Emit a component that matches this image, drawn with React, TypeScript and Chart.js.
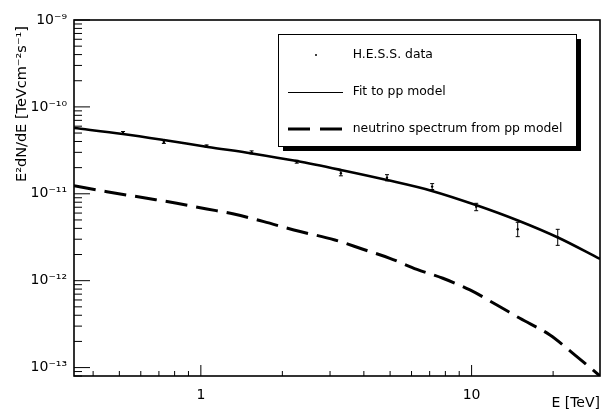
import React, { useEffect, useRef } from 'react';
import { Chart, registerables } from 'chart.js';

Chart.register(...registerables);

// ---- data ----
const hessEnergy = [0.516, 0.73, 1.05, 1.54, 2.26, 3.29, 4.87, 7.15, 10.4, 14.8, 20.8];
const hessFlux = [5.01e-11, 3.95e-11, 3.55e-11, 3.0e-11, 2.34e-11, 1.72e-11, 1.53e-11, 1.21e-11, 7.11e-12, 3.9e-12, 3.16e-12];
const hessFluxLow = [4.81e-11, 3.8e-11, 3.45e-11, 2.88e-11, 2.25e-11, 1.61e-11, 1.41e-11, 1.12e-11, 6.39e-12, 3.21e-12, 2.55e-12];
const hessFluxHigh = [5.21e-11, 4.11e-11, 3.65e-11, 3.12e-11, 2.43e-11, 1.84e-11, 1.66e-11, 1.31e-11, 7.77e-12, 4.7e-12, 3.9e-12];

const fitEnergy = [0.34, 0.515, 0.73, 1.061, 1.543, 2.263, 3.29, 4.87, 7.14, 10.37, 14.83, 20.84, 29.8];
const fitFlux = [5.72e-11, 4.88e-11, 4.16e-11, 3.46e-11, 2.91e-11, 2.38e-11, 1.88e-11, 1.44e-11, 1.08e-11, 7.43e-12, 4.93e-12, 3.14e-12, 1.78e-12];

const nuEnergy = [0.34, 0.4496, 0.632, 0.815, 1.052, 1.324, 1.709, 2.206, 3.126, 3.968, 4.99, 6.28, 7.83, 9.86, 12.4, 15.08, 19.47, 23.67, 29.8];
const nuFlux = [1.24e-11, 1.057e-11, 8.88e-12, 7.78e-12, 6.69e-12, 5.85e-12, 4.78e-12, 3.83e-12, 2.94e-12, 2.3e-12, 1.81e-12, 1.35e-12, 1.066e-12, 7.82e-13, 5.25e-13, 3.69e-13, 2.37e-13, 1.46e-13, 8.0e-14];

const seriesLabels = ['H.E.S.S. data', 'Fit to pp model', 'neutrino spectrum from pp model'];

const xTickValues = [1, 10];
const yTickExponents = [-9, -10, -11, -12, -13];
const xTitle = 'E [TeV]';
const yTitle = 'E²dN/dE [TeVcm⁻²s⁻¹]';

const xMin = 0.34;
const xMax = 29.8;
const yMin = 8.0e-14;
const yMax = 1e-9;

const SUP: Record<string, string> = {
  '-': '⁻', '0': '⁰', '1': '¹', '2': '²', '3': '³', '4': '⁴',
  '5': '⁵', '6': '⁶', '7': '⁷', '8': '⁸', '9': '⁹',
};
const sup = (s: string) => s.split('').map((c) => SUP[c] ?? c).join('');

const FONT = 'DejaVu Sans';

const decorPlugin = {
  id: 'decor',
  afterDatasetsDraw(chart: any) {
    const ctx = chart.ctx;
    const xs = chart.scales.x;
    const ys = chart.scales.y;
    ctx.save();
    ctx.strokeStyle = '#000';
    ctx.lineWidth = 1;
    for (let i = 0; i < hessEnergy.length; i++) {
      const px = xs.getPixelForValue(hessEnergy[i]);
      const yl = ys.getPixelForValue(hessFluxLow[i]);
      const yh = ys.getPixelForValue(hessFluxHigh[i]);
      ctx.beginPath();
      ctx.moveTo(px, yl);
      ctx.lineTo(px, yh);
      ctx.moveTo(px - 2, yl);
      ctx.lineTo(px + 2, yl);
      ctx.moveTo(px - 2, yh);
      ctx.lineTo(px + 2, yh);
      ctx.stroke();
    }
    ctx.restore();
  },
  afterDraw(chart: any) {
    const ctx = chart.ctx;
    const { left, right, top, bottom } = chart.chartArea;
    const xs = chart.scales.x;
    const ys = chart.scales.y;
    ctx.save();
    // frame
    ctx.strokeStyle = '#000';
    ctx.lineWidth = 1.6;
    ctx.strokeRect(left, top, right - left, bottom - top);

    // y ticks (inside)
    ctx.lineWidth = 1;
    for (let d = -14; d <= -9; d++) {
      for (let m = 1; m <= 9; m++) {
        const v = m * Math.pow(10, d);
        if (v < yMin * 0.999 || v > yMax * 1.001) continue;
        const py = ys.getPixelForValue(v);
        const len = m === 1 ? 16 : 8;
        ctx.beginPath();
        ctx.moveTo(left, py);
        ctx.lineTo(left + len, py);
        ctx.stroke();
      }
    }
    // x ticks (inside)
    for (let d = -1; d <= 1; d++) {
      for (let m = 1; m <= 9; m++) {
        const v = m * Math.pow(10, d);
        if (v < xMin || v > xMax) continue;
        const px = xs.getPixelForValue(v);
        const len = m === 1 ? 11 : 5;
        ctx.beginPath();
        ctx.moveTo(px, bottom);
        ctx.lineTo(px, bottom - len);
        ctx.stroke();
      }
    }

    // legend box with shadow
    const lx = 278, ly = 34, lw = 298, lh = 112;
    ctx.fillStyle = '#000';
    ctx.fillRect(lx + 5, ly + 5, lw, lh);
    ctx.fillStyle = '#fff';
    ctx.fillRect(lx, ly, lw, lh);
    ctx.lineWidth = 1;
    ctx.strokeStyle = '#000';
    ctx.strokeRect(lx + 0.5, ly + 0.5, lw, lh);

    const rows = [55, 92, 129];
    const ds = chart.data.datasets;
    ctx.font = `12.4px "${FONT}"`;
    ctx.textBaseline = 'middle';
    ctx.textAlign = 'left';
    for (let i = 0; i < ds.length; i++) {
      const ry = rows[i];
      ctx.strokeStyle = '#000';
      ctx.fillStyle = '#000';
      if (i === 0) {
        ctx.beginPath();
        ctx.arc(316, ry, 1, 0, Math.PI * 2);
        ctx.fill();
      } else if (i === 1) {
        ctx.lineWidth = 1;
        ctx.setLineDash([]);
        ctx.beginPath();
        ctx.moveTo(288, ry + 0.5);
        ctx.lineTo(343, ry + 0.5);
        ctx.stroke();
      } else {
        ctx.lineWidth = 3;
        ctx.setLineDash([22, 10]);
        ctx.beginPath();
        ctx.moveTo(288, ry);
        ctx.lineTo(343, ry);
        ctx.stroke();
        ctx.setLineDash([]);
      }
      ctx.fillText(ds[i].label, 352.7, ry);
    }

    // axis titles
    ctx.fillStyle = '#000';
    ctx.font = `14px "${FONT}"`;
    ctx.textAlign = 'right';
    ctx.textBaseline = 'alphabetic';
    ctx.fillText(xTitle, 600, 407);

    ctx.save();
    ctx.translate(26, 182);
    ctx.rotate(-Math.PI / 2);
    ctx.textAlign = 'left';
    ctx.font = `14.5px "${FONT}"`;
    ctx.fillText(yTitle, 0, 0);
    ctx.restore();

    ctx.restore();
  },
};

export default function App() {
  const ref = useRef<HTMLCanvasElement | null>(null);
  useEffect(() => {
    document.body.style.margin = '0';
    const canvas = ref.current;
    if (!canvas) return;
    Chart.defaults.font.family = FONT;
    Chart.defaults.color = '#000';
    const chart = new Chart(canvas, {
      type: 'line',
      data: {
        datasets: [
          {
            label: seriesLabels[0],
            data: hessEnergy.map((x, i) => ({ x, y: hessFlux[i] })),
            showLine: false,
            pointRadius: 1.2,
            pointBackgroundColor: '#000',
            pointBorderColor: '#000',
            pointBorderWidth: 0,
          },
          {
            label: seriesLabels[1],
            data: fitEnergy.map((x, i) => ({ x, y: fitFlux[i] })),
            borderColor: '#000',
            borderWidth: 2.6,
            pointRadius: 0,
            cubicInterpolationMode: 'monotone',
            fill: false,
          },
          {
            label: seriesLabels[2],
            data: nuEnergy.map((x, i) => ({ x, y: nuFlux[i] })),
            borderColor: '#000',
            borderWidth: 3,
            borderDash: [22, 9],
            pointRadius: 0,
            cubicInterpolationMode: 'monotone',
            fill: false,
          },
        ],
      },
      options: {
        animation: false,
        responsive: false,
        devicePixelRatio: 1,
        layout: { padding: { top: 20, right: 4, left: 0, bottom: 0 } },
        plugins: { legend: { display: false }, tooltip: { enabled: false } },
        scales: {
          x: {
            type: 'logarithmic',
            bounds: 'data',
            min: xMin,
            max: xMax,
            grid: { display: false, drawTicks: false },
            border: { display: false },
            afterBuildTicks: (s: any) => {
              s.ticks = xTickValues.map((v) => ({ value: v }));
            },
            afterFit: (s: any) => {
              s.height = 34;
            },
            ticks: {
              padding: 11,
              maxRotation: 0,
              autoSkip: false,
              font: { size: 14, family: FONT },
              color: '#000',
              callback: (v: any) => String(v),
            },
          },
          y: {
            type: 'logarithmic',
            bounds: 'data',
            min: yMin,
            max: yMax,
            grid: { display: false, drawTicks: false },
            border: { display: false },
            afterBuildTicks: (s: any) => {
              s.ticks = yTickExponents.map((e) => ({ value: Math.pow(10, e) }));
            },
            afterFit: (s: any) => {
              s.width = 74;
            },
            ticks: {
              padding: 7,
              autoSkip: false,
              font: { size: 14, family: FONT },
              color: '#000',
              callback: (v: any) => '10' + sup(String(Math.round(Math.log10(Number(v))))),
            },
          },
        },
      },
      plugins: [decorPlugin],
    } as any);
    return () => chart.destroy();
  }, []);
  return (
    <div style={{ position: 'absolute', left: 0, top: 0, width: 604, height: 410, background: '#fff' }}>
      <canvas ref={ref} width={604} height={410} />
    </div>
  );
}
